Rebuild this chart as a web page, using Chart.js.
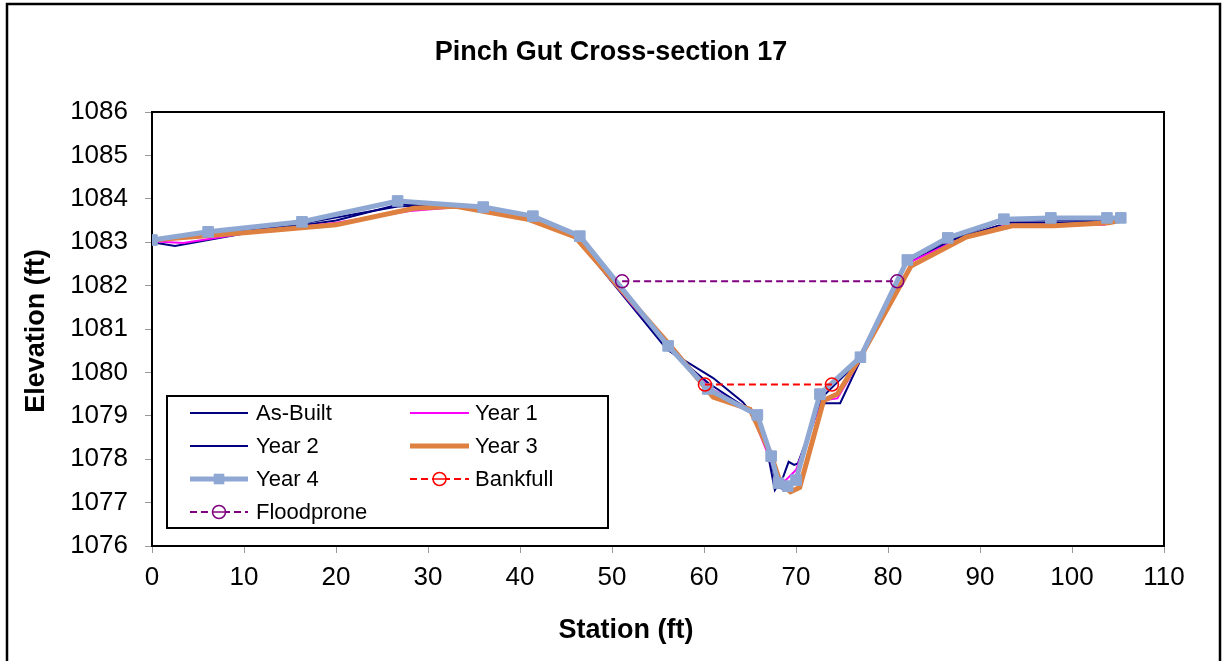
<!DOCTYPE html>
<html>
<head>
<meta charset="utf-8">
<script src="https://cdn.jsdelivr.net/npm/chart.js@4"></script>
<style>
  html, body { margin: 0; padding: 0; background: #fff; }
  #wrap { width: 1222px; height: 661px; }
</style>
</head>
<body>
<div id="wrap"><canvas id="xsChart" width="1222" height="661"></canvas></div>
<script>
// Cross-section survey data (station ft, elevation ft)
const stationAsBuilt = [0, 2.5, 10, 20, 27, 35, 41, 46, 56, 61, 64.2, 65.8, 66.8, 67.7, 68.6, 69.2, 69.8, 70.2, 72.6, 74.8, 77, 82, 87, 93, 98, 103.5, 105.3];
const elevAsBuilt = [1083.0, 1082.91, 1083.2, 1083.5, 1083.88, 1083.85, 1083.55, 1083.12, 1080.52, 1079.87, 1079.32, 1078.9, 1078.28, 1077.29, 1077.59, 1077.94, 1077.87, 1077.9, 1079.29, 1079.29, 1080.28, 1082.5, 1083.05, 1083.45, 1083.45, 1083.42, 1083.55];

const stationYear1 = [0, 3.4, 10, 20, 28, 34, 41, 46, 56, 61, 65, 66.8, 67.8, 68.8, 70, 72.8, 74.5, 77, 82, 87, 93, 98, 103.5, 105];
const elevYear1 = [1083.02, 1082.98, 1083.2, 1083.45, 1083.72, 1083.82, 1083.5, 1083.1, 1080.6, 1079.6, 1079.15, 1078.2, 1077.6, 1077.5, 1077.75, 1079.35, 1079.4, 1080.3, 1082.5, 1083.0, 1083.4, 1083.4, 1083.4, 1083.5];

const stationYear2 = [0, 6, 16, 26.7, 33, 36, 41.4, 46.5, 56, 60.5, 65.5, 67, 68, 69, 70, 72.7, 77, 82, 86.5, 92.6, 97.7, 103.8, 105.3];
const elevYear2 = [1083.03, 1083.15, 1083.42, 1083.82, 1083.88, 1083.8, 1083.57, 1083.1, 1080.55, 1079.75, 1079.05, 1078.15, 1077.35, 1077.3, 1077.6, 1079.4, 1080.3, 1082.55, 1083.05, 1083.5, 1083.5, 1083.48, 1083.55];

const stationYear3 = [0, 10, 20, 28.5, 33, 41, 46, 56, 61, 65, 67.3, 68.3, 69.4, 70.4, 73, 74.5, 77, 82.5, 88.5, 93.5, 98, 104, 105.2];
const elevYear3 = [1083.05, 1083.22, 1083.4, 1083.78, 1083.83, 1083.52, 1083.12, 1080.7, 1079.43, 1079.15, 1078.1, 1077.45, 1077.25, 1077.35, 1079.35, 1079.5, 1080.35, 1082.45, 1083.12, 1083.38, 1083.38, 1083.45, 1083.5];

const stationYear4 = [0, 6.1, 16.3, 26.7, 36.0, 41.4, 46.5, 56.1, 60.4, 65.8, 67.3, 68.1, 69.1, 70.0, 72.6, 77.0, 82.1, 86.5, 92.6, 97.7, 103.8, 105.3];
const elevYear4 = [1083.05, 1083.24, 1083.47, 1083.95, 1083.81, 1083.60, 1083.14, 1080.61, 1079.62, 1079.02, 1078.07, 1077.45, 1077.38, 1077.52, 1079.50, 1080.35, 1082.59, 1083.10, 1083.53, 1083.56, 1083.56, 1083.56];

const stationBankfull = [60.1, 73.9];
const elevBankfull = [1079.72, 1079.72];

const stationFloodprone = [51.1, 81.0];
const elevFloodprone = [1082.1, 1082.1];

const xTicks = [0, 10, 20, 30, 40, 50, 60, 70, 80, 90, 100, 110];
const yTicks = [1076, 1077, 1078, 1079, 1080, 1081, 1082, 1083, 1084, 1085, 1086];

const FONT = "'Liberation Sans', Arial, sans-serif";

function pts(xs, ys) {
    return xs.map((x, i) => ({ x: x, y: ys[i] }));
}

function lineSet(label, xs, ys, color, width, order, extra) {
    return Object.assign({
        label: label,
        data: pts(xs, ys),
        showLine: true,
        borderColor: color,
        backgroundColor: color,
        borderWidth: width,
        pointRadius: 0,
        tension: 0,
        order: order
    }, extra || {});
}

const datasets = [
    lineSet('As-Built', stationAsBuilt, elevAsBuilt, '#000080', 2, 7),
    lineSet('Year 1', stationYear1, elevYear1, '#FF00FF', 2, 6),
    lineSet('Year 2', stationYear2, elevYear2, '#000080', 2, 5),
    lineSet('Year 3', stationYear3, elevYear3, '#DD8040', 5, 4),
    lineSet('Year 4', stationYear4, elevYear4, '#8FA8D3', 5, 3, {
        pointStyle: 'rect', pointRadius: 7.5, pointBorderWidth: 1,
        pointBackgroundColor: '#8FA8D3', pointBorderColor: '#8FA8D3'
    }),
    lineSet('Bankfull', stationBankfull, elevBankfull, '#FF0000', 2, 2, {
        borderDash: [7, 4], pointStyle: 'circle', pointRadius: 6.5, pointBorderWidth: 1.5,
        pointBackgroundColor: 'rgba(0,0,0,0)', pointBorderColor: '#FF0000'
    }),
    lineSet('Floodprone', stationFloodprone, elevFloodprone, '#800080', 2, 1, {
        borderDash: [7, 4], pointStyle: 'circle', pointRadius: 6.5, pointBorderWidth: 1.5,
        pointBackgroundColor: 'rgba(0,0,0,0)', pointBorderColor: '#800080'
    })
];

// outer frame, plot frame, titles and the boxed two-column legend
const decorations = {
    id: 'decorations',
    beforeDatasetsDraw(chart) {
        const ctx = chart.ctx, a = chart.chartArea;
        ctx.save();
        ctx.strokeStyle = '#000';
        ctx.lineWidth = 2;
        ctx.strokeRect(a.left, a.top, a.right - a.left, a.bottom - a.top);
        ctx.restore();
    },
    afterDraw(chart) {
        const ctx = chart.ctx;
        ctx.save();
        ctx.strokeStyle = '#000';
        ctx.lineWidth = 2.5;
        ctx.strokeRect(7, 4, 1213, 680);

        ctx.fillStyle = '#000';
        ctx.textAlign = 'center';
        ctx.textBaseline = 'middle';
        ctx.font = 'bold 27px ' + FONT;
        ctx.fillText('Pinch Gut Cross-section 17', 611, 53);
        ctx.fillText('Station (ft)', 626, 631);
        ctx.save();
        ctx.translate(37, 331);
        ctx.rotate(-Math.PI / 2);
        ctx.fillText('Elevation (ft)', 0, 0);
        ctx.restore();

        // legend box
        const bx = 167, by = 396, bw = 441, bh = 132;
        ctx.fillStyle = '#fff';
        ctx.fillRect(bx, by, bw, bh);
        ctx.lineWidth = 2;
        ctx.strokeRect(bx, by, bw, bh);
        ctx.font = '22px ' + FONT;
        ctx.textAlign = 'left';
        const cols = [{ x0: 190, x1: 248, tx: 256 }, { x0: 410, x1: 469, tx: 475 }];
        const rows = [413, 446, 479, 512];
        chart.data.datasets.forEach((ds, i) => {
            const c = cols[i % 2], y = rows[Math.floor(i / 2)];
            ctx.save();
            ctx.strokeStyle = ds.borderColor;
            ctx.lineWidth = ds.borderWidth;
            ctx.setLineDash(ds.borderDash || []);
            ctx.beginPath();
            ctx.moveTo(c.x0, y);
            ctx.lineTo(c.x1, y);
            ctx.stroke();
            ctx.setLineDash([]);
            const mx = (c.x0 + c.x1) / 2;
            if (ds.pointStyle === 'rect') {
                const s = ds.pointRadius * Math.SQRT1_2;
                ctx.fillStyle = ds.pointBackgroundColor;
                ctx.fillRect(mx - s, y - s, 2 * s, 2 * s);
            } else if (ds.pointStyle === 'circle') {
                ctx.fillStyle = '#fff';
                ctx.lineWidth = ds.pointBorderWidth;
                ctx.strokeStyle = ds.pointBorderColor;
                ctx.beginPath();
                ctx.arc(mx, y, ds.pointRadius, 0, Math.PI * 2);
                ctx.fill();
                ctx.stroke();
                ctx.beginPath();
                ctx.moveTo(mx - ds.pointRadius, y);
                ctx.lineTo(mx + ds.pointRadius, y);
                ctx.stroke();
            }
            ctx.restore();
            ctx.fillStyle = '#000';
            ctx.fillText(ds.label, c.tx, y + 1);
        });
        ctx.restore();
    }
};

const ctx = document.getElementById('xsChart').getContext('2d');
new Chart(ctx, {
    type: 'scatter',
    data: { datasets: datasets },
    options: {
        responsive: false,
        animation: false,
        layout: { padding: { top: 112, right: 58, left: 0, bottom: 0 } },
        plugins: {
            legend: { display: false },
            title: { display: false },
            tooltip: { enabled: false }
        },
        scales: {
            x: {
                type: 'linear',
                min: 0, max: 110,
                afterBuildTicks: (scale) => { scale.ticks = xTicks.map(v => ({ value: v })); },
                afterFit: (scale) => { scale.height = 115; },
                ticks: { color: '#000', font: { family: FONT, size: 26 }, padding: 9, maxRotation: 0,
                         callback: (v) => String(v) },
                grid: { drawOnChartArea: false, drawTicks: true, tickLength: 7, color: '#999' },
                border: { display: true, color: '#000', width: 2 }
            },
            y: {
                type: 'linear',
                min: 1076, max: 1086,
                afterBuildTicks: (scale) => { scale.ticks = yTicks.map(v => ({ value: v })); },
                afterFit: (scale) => { scale.width = 152; },
                ticks: { color: '#000', font: { family: FONT, size: 26 }, padding: 17,
                         callback: (v) => String(v) },
                grid: { drawOnChartArea: false, drawTicks: true, tickLength: 7, color: '#999' },
                border: { display: true, color: '#000', width: 2 }
            }
        }
    },
    plugins: [decorations]
});
</script>
</body>
</html>
